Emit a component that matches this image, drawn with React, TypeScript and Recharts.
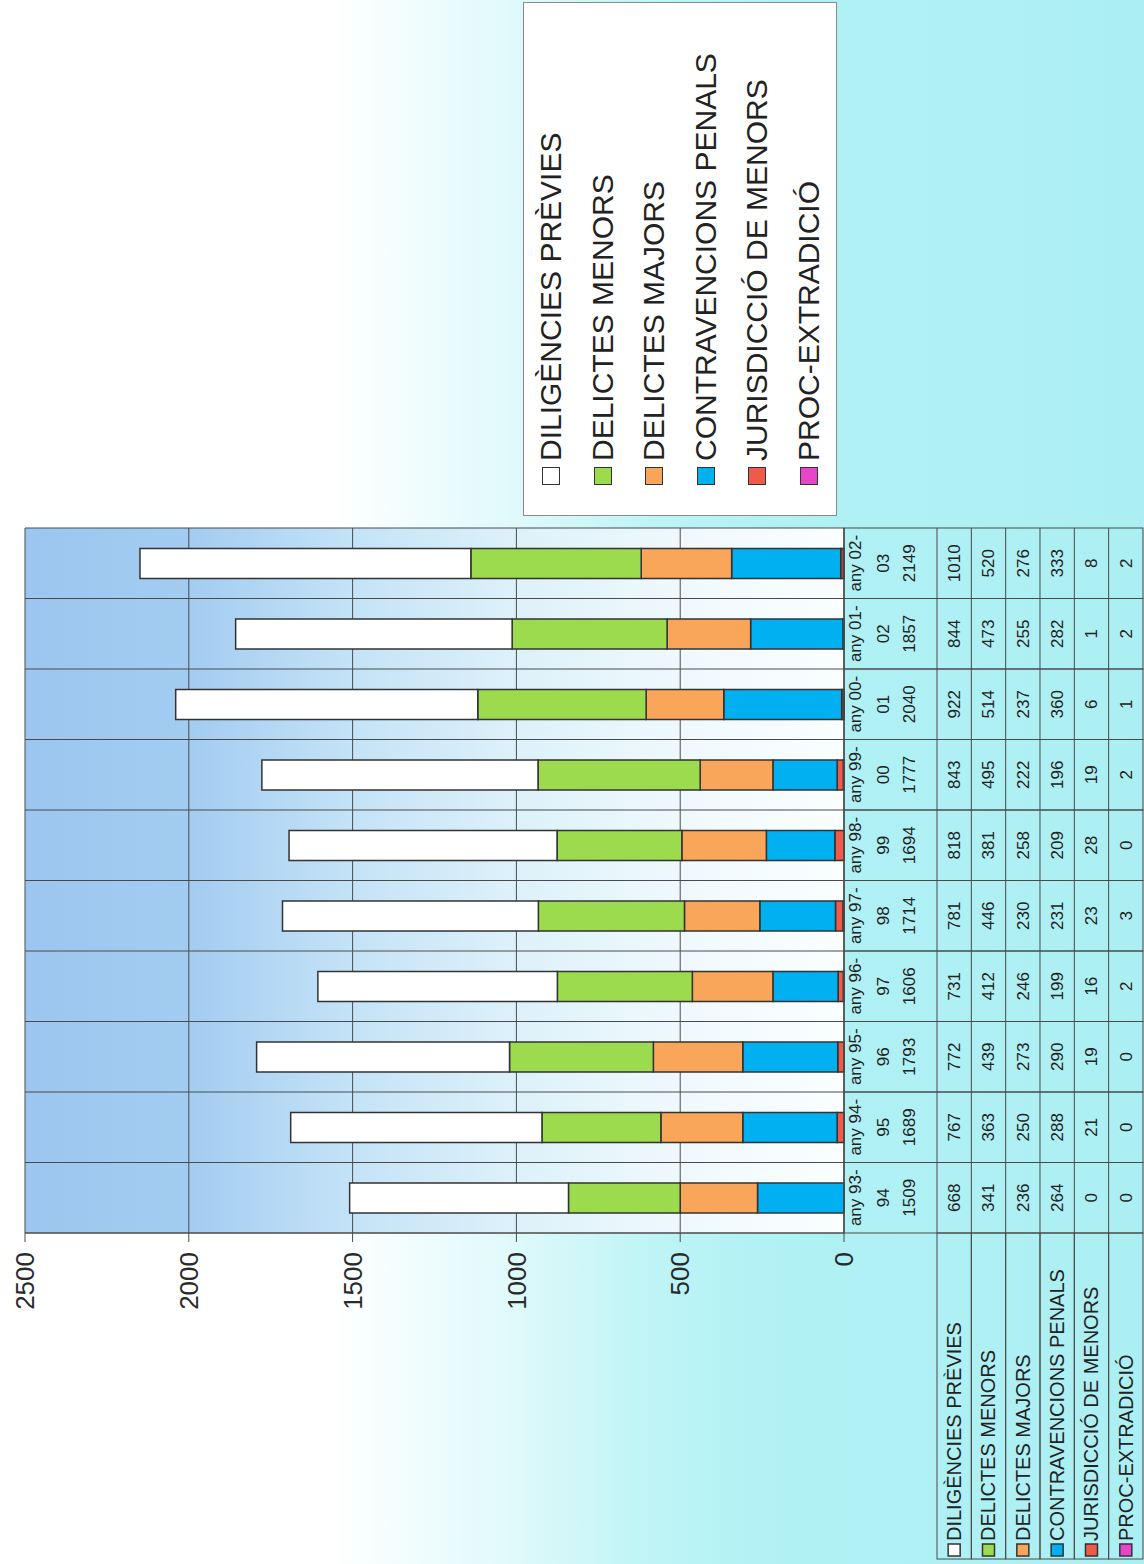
import React from 'react';
import { BarChart, Bar, XAxis, YAxis, CartesianGrid, Legend } from 'recharts';

const categories = ['any 93-94', 'any 94-95', 'any 95-96', 'any 96-97', 'any 97-98', 'any 98-99', 'any 99-00', 'any 00-01', 'any 01-02', 'any 02-03'];
const diligencies = [668, 767, 772, 731, 781, 818, 843, 922, 844, 1010];
const delictesMenors = [341, 363, 439, 412, 446, 381, 495, 514, 473, 520];
const delictesMajors = [236, 250, 273, 246, 230, 258, 222, 237, 255, 276];
const contravencions = [264, 288, 290, 199, 231, 209, 196, 360, 282, 333];
const jurisdiccio = [0, 21, 19, 16, 23, 28, 19, 6, 1, 8];
const procExtradicio = [0, 0, 0, 2, 3, 0, 2, 1, 2, 2];
const valueTicks = [0, 500, 1000, 1500, 2000, 2500];

// table / legend order (top to bottom); bars stack in reverse
const series = [
  { key: 'dil', name: 'DILIGÈNCIES PRÈVIES', values: diligencies, color: '#ffffff' },
  { key: 'men', name: 'DELICTES MENORS', values: delictesMenors, color: '#9bdb4d' },
  { key: 'maj', name: 'DELICTES MAJORS', values: delictesMajors, color: '#f9a65a' },
  { key: 'con', name: 'CONTRAVENCIONS PENALS', values: contravencions, color: '#00b0f0' },
  { key: 'jur', name: 'JURISDICCIÓ DE MENORS', values: jurisdiccio, color: '#f05a4a' },
  { key: 'pro', name: 'PROC-EXTRADICIÓ', values: procExtradicio, color: '#e845c8' },
];

const data = categories.map((name, i) => {
  const row: Record<string, any> = { name };
  series.forEach((s) => { row[s.key] = s.values[i]; });
  return row;
});

// the chart is laid out upright, then the whole sheet is turned a quarter turn
const W = 1564;
const H = 1144;
const PLOT_LEFT = 331;
const PLOT_RIGHT = 1036;
const PLOT_TOP = 25;
const PLOT_BOTTOM = 844;
const Y_AXIS_W = 90;
const HEADER_H = 93;
const ROW_H = 34.33;
const FONT = 'Liberation Sans, Arial, sans-serif';
const LINE = '#4a4a4a';

function TableColumn(props: any) {
  const { x, y, payload } = props;
  const i = categories.indexOf(payload.value);
  const colW = (PLOT_RIGHT - PLOT_LEFT) / categories.length;
  const left = x - colW / 2;
  const m = /^(.*-)(\d+)$/.exec(payload.value) || [payload.value, payload.value, ''];
  const total = series.reduce((s, d) => s + d.values[i], 0);
  const rowsTop = y + HEADER_H;
  const txt = { fontFamily: FONT, fill: '#222', textAnchor: 'middle' as const };
  return (
    <g>
      <rect x={left} y={y} width={colW} height={HEADER_H + ROW_H * series.length} fill="none" stroke={LINE} strokeWidth={1} />
      <text x={x} y={y + 17} fontSize={17} style={{ fontFamily: FONT }} {...txt}>{m[1]}</text>
      <text x={x} y={y + 45} fontSize={17} style={{ fontFamily: FONT }} {...txt}>{m[2]}</text>
      <text x={x} y={y + 71} fontSize={17} style={{ fontFamily: FONT }} {...txt}>{total}</text>
      {series.map((s, r) => (
        <g key={s.key}>
          <line x1={left} x2={left + colW} y1={rowsTop + r * ROW_H} y2={rowsTop + r * ROW_H} stroke={LINE} strokeWidth={1} />
          <text x={x} y={rowsTop + r * ROW_H + ROW_H / 2 + 6} fontSize={17} style={{ fontFamily: FONT }} {...txt}>{s.values[i]}</text>
        </g>
      ))}
      {i === 0 && series.map((s, r) => (
        <g key={'h' + s.key}>
          <rect x={5} y={rowsTop + r * ROW_H} width={left - 5} height={ROW_H} fill="none" stroke={LINE} strokeWidth={1} />
          <rect x={8} y={rowsTop + r * ROW_H + ROW_H / 2 - 6} width={12} height={12} fill={s.color} stroke="#333" strokeWidth={1.5} />
          <text x={23} y={rowsTop + r * ROW_H + ROW_H / 2 + 7} fontSize={20} fill="#222" style={{ fontFamily: FONT }}>{s.name}</text>
        </g>
      ))}
    </g>
  );
}

function LegendBox() {
  return (
    <div style={{ position: 'relative', width: 514, height: 314, background: '#fff', border: '1.5px solid #8a8a8a', boxSizing: 'border-box', fontFamily: FONT }}>
      {series.map((s, r) => (
        <div key={s.key} style={{ position: 'absolute', left: 0, top: 27 + r * 51.5 - 20, height: 40, display: 'flex', alignItems: 'center', whiteSpace: 'nowrap' }}>
          <span style={{ display: 'inline-block', marginLeft: 30, width: 18, height: 18, background: s.color, border: '1.5px solid #333', boxSizing: 'border-box' }} />
          <span style={{ marginLeft: 6, fontSize: 30, color: '#222', lineHeight: '40px' }}>{s.name}</span>
        </div>
      ))}
    </div>
  );
}

export default function App() {
  const n = categories.length;
  return (
    <div style={{ position: 'absolute', left: 0, top: 0, width: H, height: W, overflow: 'hidden' }}>
      <div
        style={{
          position: 'absolute', left: 0, top: 0, width: W, height: H,
          transformOrigin: '0 0', transform: `translate(0px, ${W}px) rotate(-90deg)`,
          background: 'linear-gradient(to bottom, #ffffff 0px, #ffffff 330px, #e2fafb 500px, #bff4f6 650px, #b0f1f4 780px, #aceff3 1144px)',
          fontFamily: FONT,
        }}
      >
        <BarChart
          width={W}
          height={H}
          data={data}
          margin={{ top: PLOT_TOP, right: W - PLOT_RIGHT, bottom: 0, left: PLOT_LEFT - Y_AXIS_W }}
          barSize={30}
        >
          <defs>
            <linearGradient id="plotBg" x1="0" y1="0" x2="0" y2="1">
              <stop offset="0" stopColor="#9cc6ef" />
              <stop offset="0.2" stopColor="#a3ccf1" />
              <stop offset="0.4" stopColor="#c4e3f7" />
              <stop offset="0.6" stopColor="#ddf1fa" />
              <stop offset="0.8" stopColor="#eff9fd" />
              <stop offset="1" stopColor="#fafeff" />
            </linearGradient>
          </defs>
          <CartesianGrid
            stroke={LINE}
            strokeWidth={1}
            fill="url(#plotBg)"
            fillOpacity={1}
            verticalCoordinatesGenerator={({ offset }: any) =>
              Array.from({ length: n + 1 }, (_, k) => offset.left + (k * offset.width) / n)
            }
          />
          <XAxis
            dataKey="name"
            height={H - PLOT_BOTTOM}
            interval={0}
            tickLine={false}
            tickSize={0}
            tickMargin={0}
            axisLine={{ stroke: LINE }}
            tick={(p: any) => <TableColumn {...p} />}
          />
          <YAxis
            type="number"
            domain={[0, 2500]}
            ticks={valueTicks}
            interval={0}
            width={Y_AXIS_W}
            tickSize={9}
            tickMargin={10}
            axisLine={{ stroke: LINE }}
            tickLine={{ stroke: LINE }}
            tick={{ fill: '#2a2a2a', fontSize: 26, fontFamily: FONT }}
          />
          <Legend
            layout="horizontal"
            verticalAlign="middle"
            align="center"
            wrapperStyle={{ left: 1048, top: 523, width: 514, height: 314 }}
            content={() => <LegendBox />}
          />
          {[...series].reverse().map((s) => (
            <Bar
              key={s.key}
              dataKey={s.key}
              name={s.name}
              stackId="a"
              fill={s.color}
              stroke="#333"
              strokeWidth={1.5}
              isAnimationActive={false}
            />
          ))}
        </BarChart>
      </div>
    </div>
  );
}
